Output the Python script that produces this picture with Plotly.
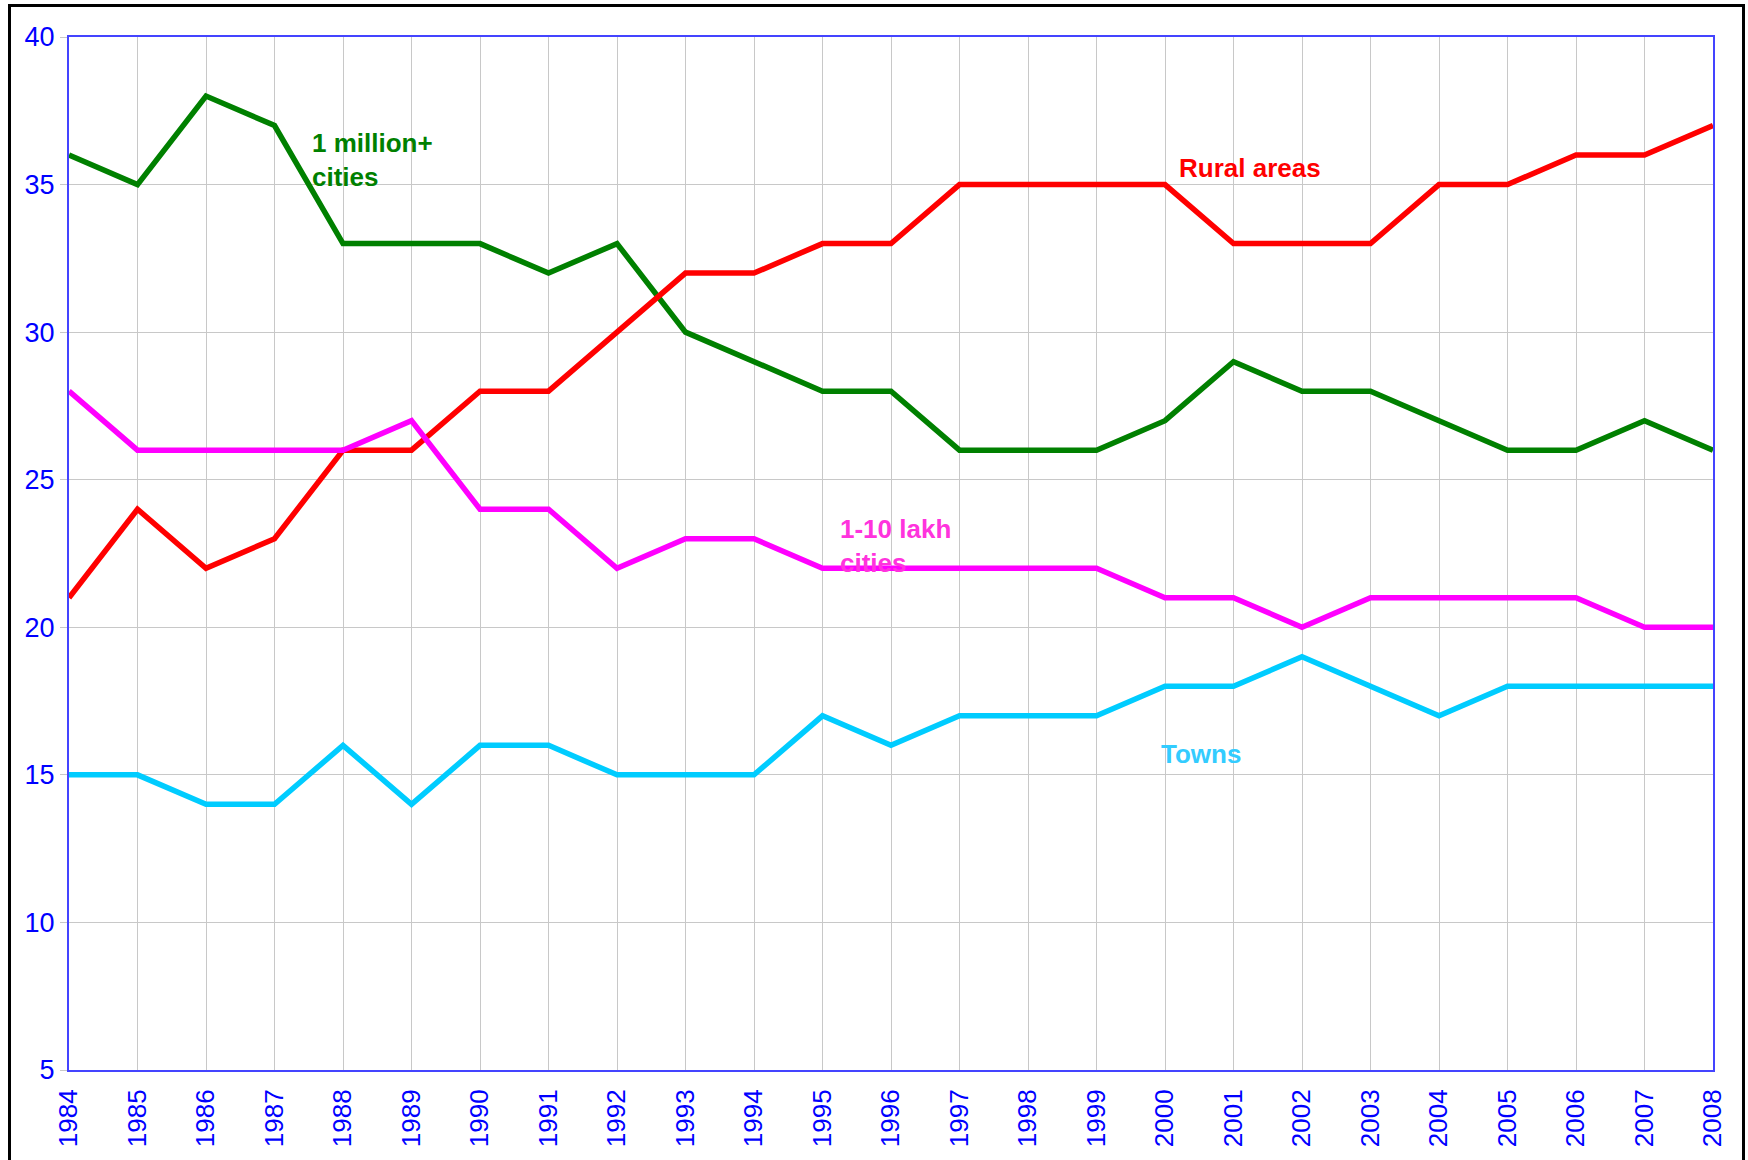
import plotly.graph_objects as go

years = list(range(1984, 2009))
million_cities = [36, 35, 38, 37, 33, 33, 33, 32, 33, 30, 29, 28, 28, 26, 26, 26, 27, 29, 28, 28, 27, 26, 26, 27, 26]
rural_areas = [21, 24, 22, 23, 26, 26, 28, 28, 30, 32, 32, 33, 33, 35, 35, 35, 35, 33, 33, 33, 35, 35, 36, 36, 37]
lakh_cities = [28, 26, 26, 26, 26, 27, 24, 24, 22, 23, 23, 22, 22, 22, 22, 22, 21, 21, 20, 21, 21, 21, 21, 20, 20]
towns = [15, 15, 14, 14, 16, 14, 16, 16, 15, 15, 15, 17, 16, 17, 17, 17, 18, 18, 19, 18, 17, 18, 18, 18, 18]

series = [
    ("1 million+ cities", million_cities, "#008000"),
    ("Rural areas", rural_areas, "#ff0000"),
    ("1-10 lakh cities", lakh_cities, "#ff00ff"),
    ("Towns", towns, "#00ccff"),
]

labels = [
    ("1 million+<br>cities", 1987.52, 35.83, "#008000"),
    ("Rural areas", 2000.17, 35.56, "#ff0000"),
    ("1-10 lakh<br>cities", 1995.23, 22.75, "#ff33dd"),
    ("Towns", 1999.91, 15.71, "#33ccff"),
]

FONT = "Liberation Sans, Arial, Helvetica, sans-serif"

fig = go.Figure()
for name, vals, color in series:
    fig.add_trace(go.Scatter(x=years, y=vals, mode="lines", name=name,
                             line=dict(color=color, width=5.5), showlegend=False))

for text, x, y, color in labels:
    fig.add_annotation(x=x, y=y, text="<b>" + text + "</b>", showarrow=False,
                       xanchor="left", yanchor="middle", align="left",
                       font=dict(family=FONT, size=26, color=color))

W, H = 1748, 1160
L, R, T, B = 69, 35, 37, 90
pw, ph = W - L - R, H - T - B
# outer black frame (page pixel coords -> paper)
fx0, fx1, fy_top, fy_bot = 9.5, 1743.5, 5.5, 1175
fig.add_shape(type="rect", xref="paper", yref="paper",
              x0=(fx0 - L) / pw, x1=(fx1 - L) / pw,
              y0=((H - B) - fy_bot) / ph, y1=((H - B) - fy_top) / ph,
              line=dict(color="black", width=3), fillcolor="rgba(0,0,0,0)", layer="above")

fig.update_layout(
    width=W, height=H,
    margin=dict(l=L, r=R, t=T, b=B),
    paper_bgcolor="white", plot_bgcolor="white",
    font=dict(family=FONT, size=26, color="#0000ff"),
    hovermode=False,
    xaxis=dict(range=[1984, 2008], tickmode="array", tickvals=years,
               ticktext=[str(y) for y in years], tickangle=-90,
               showgrid=True, gridcolor="#c8c8c8", gridwidth=1,
               showline=True, linecolor="#4444ff", linewidth=2, mirror=True,
               ticks="", ticklabelstandoff=7,
               tickfont=dict(family=FONT, size=26, color="#0000ff"),
               zeroline=False),
    yaxis=dict(range=[5, 40], tickmode="array", tickvals=[5, 10, 15, 20, 25, 30, 35, 40],
               showgrid=True, gridcolor="#c8c8c8", gridwidth=1,
               showline=True, linecolor="#4444ff", linewidth=2, mirror=True,
               ticks="outside", ticklen=7, tickcolor="#c8c8c8",
               tickfont=dict(family=FONT, size=27, color="#0000ff"),
               zeroline=False),
)

fig.write_html("out.html", config={"displayModeBar": False},
               post_script="document.body.style.margin='0';document.body.style.overflow='hidden';")
